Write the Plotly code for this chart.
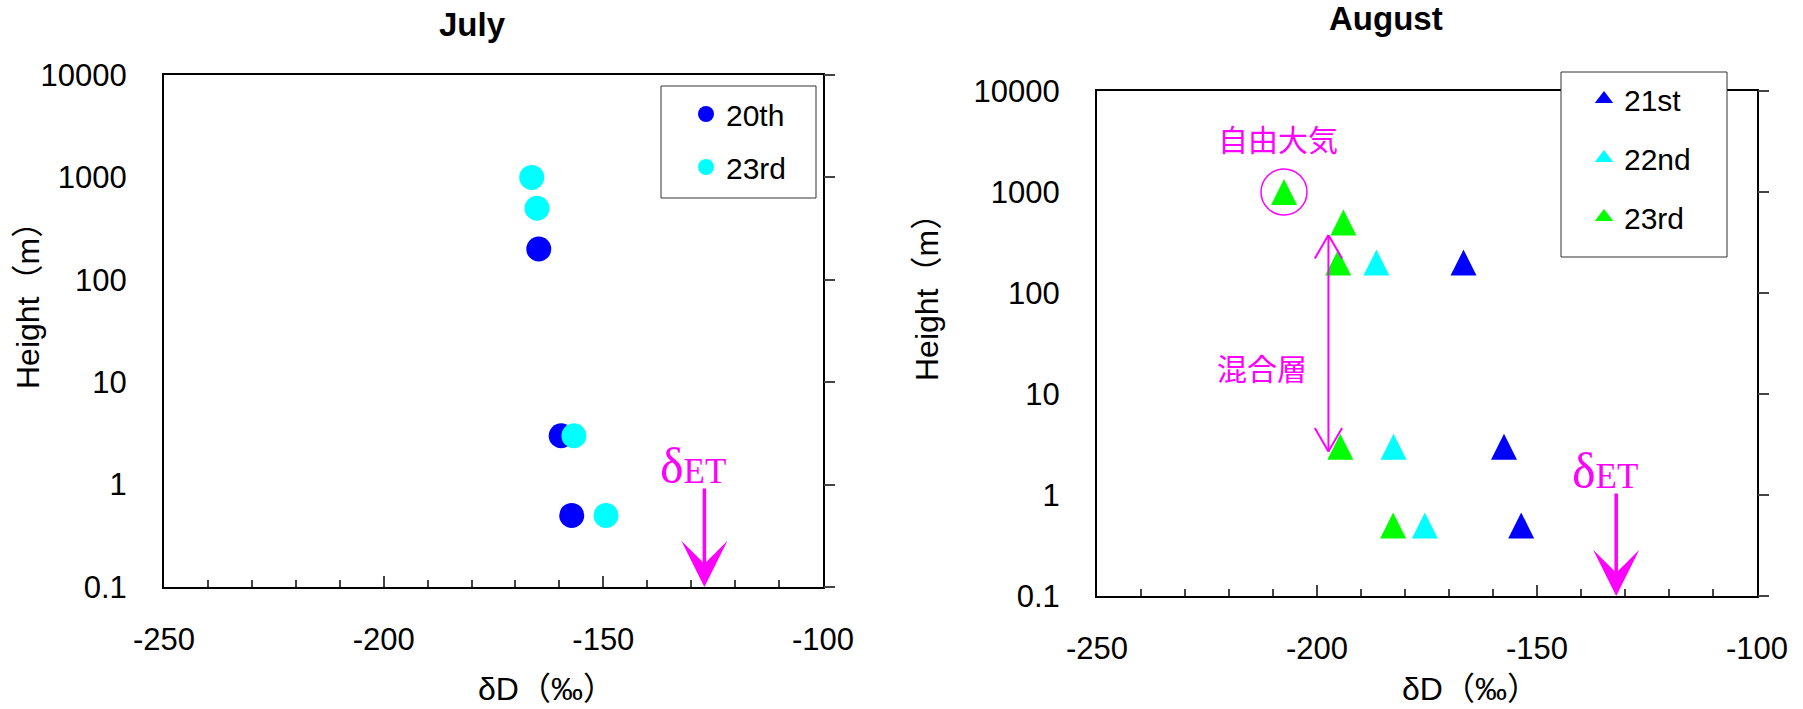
import numpy as np
import plotly.graph_objects as go

W, H = 1803, 709

# ---------------- data ----------------
jul_20_dD = [-164.7, -159.6, -157.2]
jul_20_h = [200, 3, 0.5]
jul_23_dD = [-166.3, -165.1, -156.7, -149.4]
jul_23_h = [1000, 500, 3, 0.5]

aug_21_dD = [-166.7, -157.5, -153.6]
aug_21_h = [200, 3, 0.5]
aug_22_dD = [-186.5, -182.6, -175.5]
aug_22_h = [200, 3, 0.5]
aug_23_dD = [-207.5, -194.0, -195.2, -194.7, -182.7]
aug_23_h = [1000, 500, 200, 3, 0.5]

det_jul = -127.0          # δET value, July
det_aug = -132.0          # δET value, August
free_atm_point = (-207.5, 1000)    # circled point (free atmosphere)
mix_top, mix_bottom, mix_x = 375, 2.7, -197.4   # mixing-layer arrow

y_ticks = [0.1, 1, 10, 100, 1000, 10000]
y_tick_text = ["0.1", "1", "10", "100", "1000", "10000"]
x_ticks = [-250, -200, -150, -100]
x_tick_text = ["-250", "-200", "-150", "-100"]

BLUE, CYAN, GREEN, MAG = "#0000FF", "#00FFFF", "#00FF00", "#FF00FF"
SANS = "Liberation Sans, Arial, Noto Sans CJK JP"
CJK = "Noto Sans CJK JP"
SERIF = "Liberation Serif, Times New Roman"


def px_x(p):
    return p / W


def px_y(p):
    return 1 - p / H


# plot area pixel boxes (left, right, top, bottom)
jul_box = (164, 823, 75, 587)
aug_box = (1097, 1757, 91, 596)

fig = go.Figure()

tri = dict(symbol="arrow-down", angle=180, standoff=13, size=26)

# ---- July data ----
fig.add_trace(go.Scatter(x=jul_20_dD, y=jul_20_h, mode="markers", name="20th",
                         marker=dict(color=BLUE, size=25, symbol="circle"),
                         xaxis="x", yaxis="y", showlegend=False))
fig.add_trace(go.Scatter(x=jul_23_dD, y=jul_23_h, mode="markers", name="23rd",
                         marker=dict(color=CYAN, size=25, symbol="circle"),
                         xaxis="x", yaxis="y", showlegend=False))
# ---- August data ----
fig.add_trace(go.Scatter(x=aug_21_dD, y=aug_21_h, mode="markers", name="21st",
                         marker=dict(color=BLUE, **tri),
                         xaxis="x2", yaxis="y2", showlegend=False))
fig.add_trace(go.Scatter(x=aug_22_dD, y=aug_22_h, mode="markers", name="22nd",
                         marker=dict(color=CYAN, **tri),
                         xaxis="x2", yaxis="y2", showlegend=False))
fig.add_trace(go.Scatter(x=aug_23_dD, y=aug_23_h, mode="markers", name="23rd",
                         marker=dict(color=GREEN, **tri),
                         xaxis="x2", yaxis="y2", showlegend=False))
# circle highlighting the free-atmosphere point
fig.add_trace(go.Scatter(x=[free_atm_point[0]], y=[free_atm_point[1]], mode="markers",
                         marker=dict(symbol="circle-open", size=46, color=MAG,
                                     line=dict(color=MAG, width=1.5)),
                         xaxis="x2", yaxis="y2", showlegend=False, hoverinfo="skip"))

# ---- legend entries ----
for name, col, sym, leg, grp, ax in [
        ("20th", BLUE, "circle", "legend", "a", ("x", "y")),
        ("23rd", CYAN, "circle", "legend", "b", ("x", "y")),
        ("21st", BLUE, "triangle-up", "legend2", "c", ("x2", "y2")),
        ("22nd", CYAN, "triangle-up", "legend2", "d", ("x2", "y2")),
        ("23rd", GREEN, "triangle-up", "legend2", "e", ("x2", "y2"))]:
    fig.add_trace(go.Scatter(x=[None], y=[None], mode="markers", name=name,
                             marker=dict(color=col, symbol=sym, size=20),
                             xaxis=ax[0], yaxis=ax[1], legend=leg, legendgroup=grp,
                             hoverinfo="skip"))

# dummy traces so that the right-hand tick axes are drawn
for ax in [("x", "y3"), ("x2", "y4")]:
    fig.add_trace(go.Scatter(x=[None], y=[None], xaxis=ax[0], yaxis=ax[1],
                             showlegend=False, hoverinfo="skip"))


def xaxis_cfg(box):
    return dict(domain=[px_x(box[0]), px_x(box[1])], range=[-250, -100],
                tickvals=x_ticks, ticktext=x_tick_text, ticks="inside", ticklen=11,
                tickwidth=1.5, tickcolor="#444",
                minor=dict(dtick=10, tick0=-250, ticks="inside", ticklen=7,
                           tickwidth=1.5, tickcolor="#444", showgrid=False),
                showline=True, linecolor="black", linewidth=2, mirror=True,
                showgrid=False, zeroline=False, ticklabelstandoff=24, automargin=False,
                tickfont=dict(family=SANS, size=31, color="black"))


def yaxis_cfg(box, anchor):
    return dict(domain=[px_y(box[3]), px_y(box[2])], type="log", range=[-1, 4],
                tickvals=y_ticks, ticktext=y_tick_text, ticks="",
                showline=True, linecolor="black", linewidth=2, mirror=True,
                showgrid=False, zeroline=False, anchor=anchor, ticklabelstandoff=29,
                automargin=False, tickfont=dict(family=SANS, size=31, color="black"))


def yright_cfg(box, over, anchor):
    return dict(domain=[px_y(box[3]), px_y(box[2])], type="log", range=[-1, 4],
                overlaying=over, side="right", anchor=anchor,
                tickvals=y_ticks, ticks="outside", ticklen=11, tickwidth=1.5,
                tickcolor="#444", showticklabels=False, showline=False,
                showgrid=False, zeroline=False, automargin=False)


legend_common = dict(bgcolor="rgba(0,0,0,0)", borderwidth=0,
                     font=dict(family=SANS, size=30, color="black"),
                     xanchor="left", yanchor="top", itemsizing="trace",
                     traceorder="grouped")

fig.update_layout(
    template="none",
    width=W, height=H, margin=dict(l=0, r=0, t=0, b=0, autoexpand=False),
    paper_bgcolor="white", plot_bgcolor="white", showlegend=True,
    xaxis=xaxis_cfg(jul_box) | dict(anchor="y"),
    yaxis=yaxis_cfg(jul_box, "x"),
    xaxis2=xaxis_cfg(aug_box) | dict(anchor="y2"),
    yaxis2=yaxis_cfg(aug_box, "x2"),
    yaxis3=yright_cfg(jul_box, "y", "x"),
    yaxis4=yright_cfg(aug_box, "y2", "x2"),
    legend=legend_common | dict(x=px_x(686), y=px_y(88), tracegroupgap=11),
    legend2=legend_common | dict(x=px_x(1584), y=px_y(73), tracegroupgap=17),
)

# legend frames
shapes = []
for x0, x1, y0, y1 in [(661, 816, 86, 198), (1561, 1727, 72, 257)]:
    shapes.append(dict(type="rect", xref="paper", yref="paper",
                       x0=px_x(x0), x1=px_x(x1), y0=px_y(y1), y1=px_y(y0),
                       fillcolor="white", line=dict(color="#333", width=1),
                       layer="above"))
fig.update_layout(shapes=shapes)

ann = []


def txt(text, xc, yc, size, family=SANS, color="black", angle=0):
    return dict(text=text, x=px_x(xc), y=px_y(yc), xref="paper", yref="paper",
                xanchor="center", yanchor="middle", showarrow=False, textangle=angle,
                font=dict(family=family, size=size, color=color))


# titles
ann.append(txt("<b>July</b>", 472, 25, 33))
ann.append(txt("<b>August</b>", 1386, 19, 33))
# axis titles
ann.append(txt("δD（‰）", 546, 689, 32))
ann.append(txt("δD（‰）", 1470, 689, 32))
ann.append(txt("Height（m）", 28, 298, 32, angle=-90))
ann.append(txt("Height（m）", 927, 290, 32, angle=-90))

# δET arrows and labels
for xa, ya, xv, length in [("x", "y", det_jul, 100), ("x2", "y2", det_aug, 104)]:
    ann.append(dict(x=xv, y=-1, xref=xa, yref=ya, ax=0, ay=-length, text="",
                    showarrow=True, arrowhead=3, arrowwidth=3.5, arrowsize=2.2,
                    arrowcolor=MAG, standoff=0))
    ann.append(dict(x=xv, y=-1, xref=xa, yref=ya, yshift=length - 9, xshift=-11,
                    xanchor="center", yanchor="bottom", showarrow=False,
                    text="<span style='font-size:50px'>δ</span>ET",
                    font=dict(family=SERIF, size=35, color=MAG)))

# mixing layer double arrow: shaft plus open V heads
ann.append(dict(x=mix_x, y=np.log10(mix_bottom), ax=mix_x, ay=np.log10(mix_top),
                xref="x2", yref="y2", axref="x2", ayref="y2", text="",
                showarrow=True, arrowhead=0, arrowwidth=2, arrowcolor=MAG,
                standoff=0, startstandoff=0))
for tip, sgn in [(mix_top, 1), (mix_bottom, -1)]:
    for dx in (-14.5, 14.5):
        ann.append(dict(x=mix_x, y=np.log10(tip), xref="x2", yref="y2",
                        ax=dx, ay=25 * sgn, text="", showarrow=True, arrowhead=0,
                        arrowwidth=2, arrowcolor=MAG, standoff=0))
ann.append(txt("混合層", 1262, 367, 30, family=CJK, color=MAG))
ann.append(txt("自由大気", 1278, 138, 30, family=CJK, color=MAG))

fig.update_layout(annotations=ann)

fig.write_html("out.html", config={"displayModeBar": False},
               post_script="document.body.style.margin='0';document.body.style.overflow='hidden';")
